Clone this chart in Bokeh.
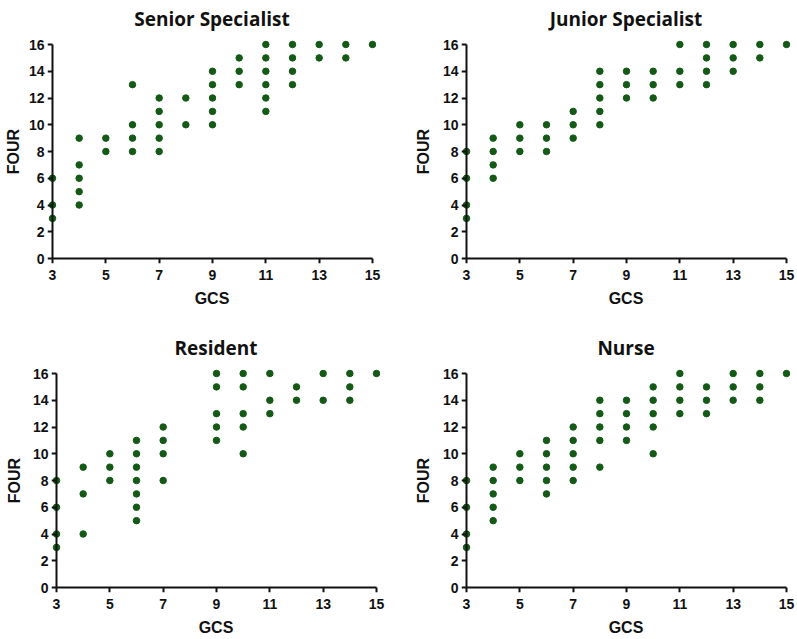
from bokeh.plotting import figure
from bokeh.layouts import column, row
from bokeh.models import Range1d, FixedTicker, LinearAxis
from bokeh.embed import file_html
from bokeh.resources import INLINE

# ---- data (GCS vs FOUR) ----
senior_gcs = [3, 3, 3, 4, 4, 4, 4, 4, 5, 5, 6, 6, 6, 6, 7, 7, 7, 7, 7, 8, 8,
              9, 9, 9, 9, 9, 10, 10, 10, 11, 11, 11, 11, 11, 11, 12, 12, 12, 12,
              13, 13, 14, 14, 15]
senior_four = [3, 4, 6, 4, 5, 6, 7, 9, 8, 9, 8, 9, 10, 13, 8, 9, 10, 11, 12, 10, 12,
               10, 11, 12, 13, 14, 13, 14, 15, 11, 12, 13, 14, 15, 16, 13, 14, 15, 16,
               15, 16, 15, 16, 16]

junior_gcs = [3, 3, 3, 3, 4, 4, 4, 4, 5, 5, 5, 6, 6, 6, 7, 7, 7, 8, 8, 8, 8, 8,
              9, 9, 9, 10, 10, 10, 11, 11, 11, 12, 12, 12, 12, 13, 13, 13, 14, 14, 15]
junior_four = [3, 4, 6, 8, 6, 7, 8, 9, 8, 9, 10, 8, 9, 10, 9, 10, 11, 10, 11, 12, 13, 14,
               12, 13, 14, 12, 13, 14, 13, 14, 16, 13, 14, 15, 16, 14, 15, 16, 15, 16, 16]

resident_gcs = [3, 3, 3, 3, 4, 4, 4, 5, 5, 5, 6, 6, 6, 6, 6, 6, 6, 7, 7, 7, 7,
                9, 9, 9, 9, 9, 10, 10, 10, 10, 10, 11, 11, 11, 12, 12, 13, 13,
                14, 14, 14, 15]
resident_four = [3, 4, 6, 8, 4, 7, 9, 8, 9, 10, 5, 6, 7, 8, 9, 10, 11, 8, 10, 11, 12,
                 11, 12, 13, 15, 16, 10, 12, 13, 15, 16, 13, 14, 16, 14, 15, 14, 16,
                 14, 15, 16, 16]

nurse_gcs = [3, 3, 3, 3, 4, 4, 4, 4, 4, 5, 5, 5, 6, 6, 6, 6, 6, 7, 7, 7, 7, 7,
             8, 8, 8, 8, 8, 9, 9, 9, 9, 10, 10, 10, 10, 10, 11, 11, 11, 11,
             12, 12, 12, 13, 13, 13, 14, 14, 14, 15]
nurse_four = [3, 4, 6, 8, 5, 6, 7, 8, 9, 8, 9, 10, 7, 8, 9, 10, 11, 8, 9, 10, 11, 12,
              9, 11, 12, 13, 14, 11, 12, 13, 14, 10, 12, 13, 14, 15, 13, 14, 15, 16,
              13, 14, 15, 14, 15, 16, 14, 15, 16, 16]

x_ticks = [3, 5, 7, 9, 11, 13, 15]
y_ticks = [0, 2, 4, 6, 8, 10, 12, 14, 16]
X_MIN, X_MAX = 3, 15
Y_MIN, Y_MAX = 0, 16

DOT = "#145a16"
AXIS = "#111111"
TXT = "#111111"

FW, FH = 329, 224          # frame size in px
PAD_L, PAD_R = 5, 4        # px of room around the axes box so edge dots are not cut
PAD_T, PAD_B = 5, 5


def style_line_axis(ax):
    ax.axis_line_width = 2
    ax.axis_line_color = AXIS
    ax.major_tick_line_width = 2
    ax.major_tick_line_color = AXIS
    ax.major_tick_out = 5
    ax.major_tick_in = 0
    ax.minor_tick_line_color = None
    ax.major_label_text_color = None
    ax.axis_label = None


def style_label_axis(ax, label):
    ax.axis_line_color = None
    ax.major_tick_line_color = None
    ax.minor_tick_line_color = None
    ax.major_tick_out = 0
    ax.major_tick_in = 0
    ax.minor_tick_out = 0
    ax.major_label_text_font = "Liberation Sans"
    ax.major_label_text_font_style = "bold"
    ax.major_label_text_font_size = "14px"
    ax.major_label_text_color = TXT
    ax.axis_label = label
    ax.axis_label_text_font = "Liberation Sans"
    ax.axis_label_text_font_style = "bold"
    ax.axis_label_text_font_size = "16px"
    ax.axis_label_text_color = TXT


def panel(title, gcs, four, bl, br, bt, bb, ylab_standoff):
    ux = (FW - PAD_L - PAD_R) / (X_MAX - X_MIN)
    uy = (FH - PAD_T - PAD_B) / (Y_MAX - Y_MIN)
    p = figure(frame_width=FW, frame_height=FH, output_backend="svg", toolbar_location=None,
               x_range=Range1d(X_MIN - PAD_L / ux, X_MAX + PAD_R / ux),
               y_range=Range1d(Y_MIN - PAD_B / uy, Y_MAX + PAD_T / uy),
               min_border_left=bl, min_border_right=br, min_border_top=bt, min_border_bottom=bb)
    p.title.text = title
    p.title.align = "center"
    p.title.vertical_align = "top"
    p.title.text_font = "Open Sans"
    p.title.text_font_style = "bold"
    p.title.text_font_size = "19px"
    p.title.text_color = TXT
    p.title.standoff = 11
    p.outline_line_color = None
    p.grid.visible = False

    # label axes in the side panels
    p.xaxis.ticker = FixedTicker(ticks=x_ticks, minor_ticks=[])
    p.yaxis.ticker = FixedTicker(ticks=y_ticks, minor_ticks=[])
    style_label_axis(p.xaxis[0], "GCS")
    style_label_axis(p.yaxis[0], "FOUR")
    p.xaxis.major_label_standoff = 6
    p.yaxis.major_label_standoff = 3
    p.xaxis.axis_label_standoff = 7
    p.yaxis.axis_label_standoff = ylab_standoff

    # axis lines + ticks exactly at GCS=3 and FOUR=0
    fx = LinearAxis(fixed_location=Y_MIN, bounds=(X_MIN, X_MAX),
                    ticker=FixedTicker(ticks=x_ticks, minor_ticks=[]))
    fy = LinearAxis(fixed_location=X_MIN, bounds=(Y_MIN, Y_MAX),
                    ticker=FixedTicker(ticks=y_ticks, minor_ticks=[]))
    style_line_axis(fx)
    style_line_axis(fy)
    p.add_layout(fx, "below")
    p.add_layout(fy, "left")

    p.scatter(gcs, four, size=6.5, color=DOT, line_color=DOT)
    return p


p1 = panel("Senior Specialist", senior_gcs, senior_four, 47, 20, 39, 66, 4)
p2 = panel("Junior Specialist", junior_gcs, junior_four, 65, 5, 39, 66, 8)
p3 = panel("Resident", resident_gcs, resident_four, 51, 16, 39, 46, 7)
p4 = panel("Nurse", nurse_gcs, nurse_four, 65, 5, 39, 46, 8)

layout = column(row(p1, p2, spacing=0), row(p3, p4, spacing=0), spacing=0)

open("out.html", "w").write(file_html(layout, INLINE))
